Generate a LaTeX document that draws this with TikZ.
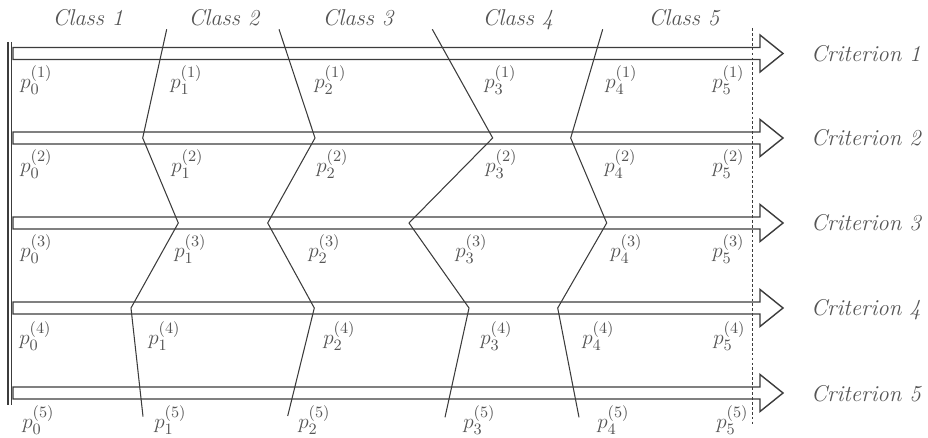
\documentclass[tikz,border=0pt]{standalone}
\usetikzlibrary{calc}

\definecolor{linegray}{RGB}{60,60,60}
\definecolor{textgray}{RGB}{85,85,85}

\tikzset{
  classlabel/.style={font=\fontsize{13}{15}\selectfont\itshape, text=textgray, anchor=base, inner sep=0pt},
  critlabel/.style={font=\fontsize{13}{15}\selectfont\itshape, text=textgray, anchor=base, inner sep=0pt},
  plabel/.style={font=\fontsize{13}{15}\selectfont, text=textgray, anchor=north west, inner sep=0pt},
  critarrow/.style={draw=linegray, line width=0.8pt, line join=miter},
  border/.style={draw=linegray, line width=0.6pt},
}

\begin{document}
\begin{tikzpicture}[x=0.02cm, y=-0.02cm]
\useasboundingbox (0,0) rectangle (928,438);

% left edge
\draw[border] (8,42) -- (8,405);
\draw[border] (11.5,42) -- (11.5,405);

% one hollow arrow per criterion
\foreach \i/\c in {1/53.5, 2/138, 3/223, 4/308, 5/393} {
  \draw[critarrow] (13,\c-6) -- (760,\c-6) -- (760,\c-18.5) -- (783,\c)
    -- (760,\c+18.5) -- (760,\c+6) -- (13,\c+6) -- cycle;
  \node[critlabel] (crit\i) at (866,\c+8) {Criterion \i};
}

\draw[linegray, line width=0.5pt, dash pattern=on 1.6pt off 1.2pt] (752,28) -- (752,425);

\foreach \j/\x in {1/88, 2/224, 3/358, 4/518, 5/684}
  \node[classlabel] (class\j) at (\x,26) {Class \j};

% class borders
\foreach \b/\pts in {1/{166.7/29.3, 142.7/138, 178.3/223, 131/308, 143/416.5},
                     2/{279/29.3, 315/138, 267.7/223, 314.3/308, 287.7/416},
                     3/{432.3/29.3, 492.7/138, 409/223, 469/308, 445/417.3},
                     4/{602.7/29.3, 570.7/138, 606.7/223, 557.7/308, 579/417.3}} {
  \foreach \x/\y [count=\k from 0] in \pts
    \coordinate (b\b-\k) at (\x,\y);
  \draw[border] (b\b-0) -- (b\b-1) -- (b\b-2) -- (b\b-3) -- (b\b-4);
}

% profiles
\foreach \i/\t/\xs in {1/65/{20,170,314,484,605,712},
                       2/149/{20,171,316,485,604,712},
                       3/234/{20,174,308,455,610,712},
                       4/321/{19,148,323,480,582,713},
                       5/405/{22,154,298,463,597,716}} {
  \foreach \x [count=\k from 0] in \xs
    \node[plabel] (p\k-\i) at (\x,\t) {$p_{\k}^{(\i)}$};
}

\end{tikzpicture}
\end{document}
